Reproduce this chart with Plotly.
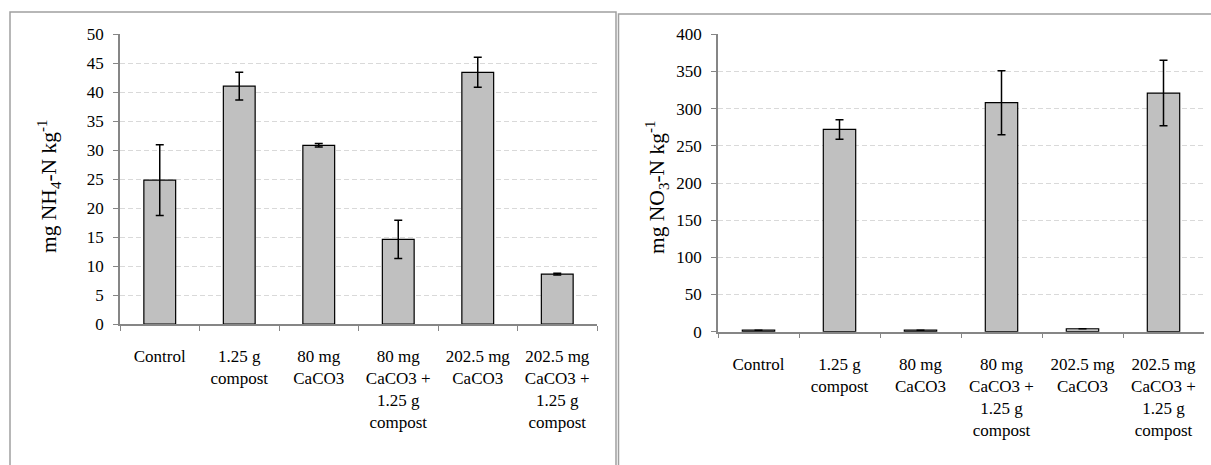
import plotly.graph_objects as go

# ---------------- data ----------------
categories = [
    "Control",
    "1.25 g<br>compost",
    "80 mg<br>CaCO3",
    "80 mg<br>CaCO3 +<br>1.25 g<br>compost",
    "202.5 mg<br>CaCO3",
    "202.5 mg<br>CaCO3 +<br>1.25 g<br>compost",
]
nh4_values = [24.8, 41.0, 30.8, 14.6, 43.4, 8.6]
nh4_errors = [6.1, 2.4, 0.3, 3.3, 2.6, 0.15]
no3_values = [2.0, 272.0, 2.0, 308.0, 4.0, 321.0]
no3_errors = [0.0, 13.0, 0.0, 43.0, 0.0, 44.0]

nh4_ticks = [0, 5, 10, 15, 20, 25, 30, 35, 40, 45, 50]
no3_ticks = [0, 50, 100, 150, 200, 250, 300, 350, 400]

# ---------------- layout constants (pixels) ----------------
W, H = 1211, 465
FONT = "Liberation Serif"


def px_x(p):
    return p / W


def px_y(p):
    return 1 - p / H


fig = go.Figure()

bar_style = dict(
    marker=dict(color="#c0c0c0", line=dict(color="#000000", width=1.2)),
    showlegend=False,
    hoverinfo="x+y",
)

fig.add_trace(go.Bar(
    x=categories, y=nh4_values,
    error_y=dict(type="data", array=nh4_errors, visible=True,
                 color="#000000", thickness=1.5, width=4),
    xaxis="x", yaxis="y", **bar_style,
))
fig.add_trace(go.Bar(
    x=categories, y=no3_values,
    error_y=dict(type="data", array=no3_errors, visible=True,
                 color="#000000", thickness=1.5, width=4),
    xaxis="x2", yaxis="y2", **bar_style,
))

axis_common = dict(
    automargin=False,
    showline=True, linecolor="#868686", linewidth=1.5,
    ticks="outside", ticklen=5, tickcolor="#868686", tickwidth=1.2,
    tickfont=dict(family=FONT, size=17, color="#000000"),
)
xaxis_common = dict(
    axis_common, type="category", tickson="boundaries",
    showgrid=False, tickangle=0, ticklabelstandoff=16,
)
yaxis_common = dict(
    axis_common, showgrid=True, gridcolor="#d9d9d9", griddash="5px,3px",
    gridwidth=1, zeroline=False, ticklabelstandoff=6,
)

fig.update_layout(
    template="none",
    width=W, height=H,
    autosize=False,
    margin=dict(l=0, r=0, t=0, b=0, pad=0),
    paper_bgcolor="white", plot_bgcolor="white",
    bargap=0.6,
    font=dict(family=FONT, size=17, color="#000000"),
    xaxis=dict(xaxis_common, domain=[px_x(120), px_x(597)], anchor="y"),
    yaxis=dict(yaxis_common, domain=[px_y(324), px_y(34)], anchor="x",
               range=[0, 50], tickvals=nh4_ticks),
    xaxis2=dict(xaxis_common, domain=[px_x(718), px_x(1204)], anchor="y2"),
    yaxis2=dict(yaxis_common, domain=[px_y(331.7), px_y(34.3)], anchor="x2",
                range=[0, 400], tickvals=no3_ticks),
    shapes=[
        dict(type="rect", xref="paper", yref="paper",
             x0=px_x(10), x1=px_x(616), y0=px_y(480), y1=px_y(12),
             line=dict(color="#a0a0a0", width=1.5), layer="below"),
        dict(type="rect", xref="paper", yref="paper",
             x0=px_x(618.5), x1=px_x(1216), y0=px_y(480), y1=px_y(14),
             line=dict(color="#a0a0a0", width=1.5), layer="below"),
    ],
    annotations=[
        dict(text="mg NH<sub>4</sub>-N kg<sup>-1</sup>", textangle=-90,
             xref="paper", yref="paper", x=px_x(49), y=px_y(186),
             xanchor="center", yanchor="middle", showarrow=False,
             font=dict(family=FONT, size=21.5, color="#000000")),
        dict(text="mg NO<sub>3</sub>-N kg<sup>-1</sup>", textangle=-90,
             xref="paper", yref="paper", x=px_x(657), y=px_y(187),
             xanchor="center", yanchor="middle", showarrow=False,
             font=dict(family=FONT, size=21.5, color="#000000")),
    ],
)

fig.write_html(
    "out.html",
    config={"displayModeBar": False},
    post_script="document.body.style.margin='0';document.body.style.overflow='hidden';",
)
